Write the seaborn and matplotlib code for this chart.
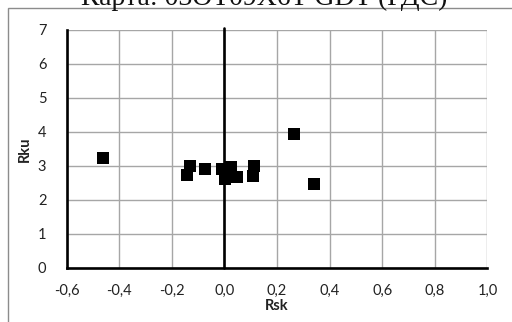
import matplotlib
matplotlib.use("Agg")
import matplotlib.pyplot as plt
import seaborn as sns
import pandas as pd
from matplotlib.patches import Rectangle

# values
rsk = [-0.463, -0.131, -0.141, -0.073, -0.008, 0.024, 0.002, 0.049, 0.014, 0.112, 0.110, 0.264, 0.339]
rku = [3.23, 2.99, 2.74, 2.90, 2.91, 2.96, 2.62, 2.67, 2.74, 3.01, 2.71, 3.94, 2.48]

xticks = [-0.6, -0.4, -0.2, 0.0, 0.2, 0.4, 0.6, 0.8, 1.0]
xticklabels = ["-0,6", "-0,4", "-0,2", "0,0", "0,2", "0,4", "0,6", "0,8", "1,0"]
yticks = [0, 1, 2, 3, 4, 5, 6, 7]
title = "Карта: 03ОТ09Х6Т GDT (ГДС)"

df = pd.DataFrame({"Rsk": rsk, "Rku": rku})

sns.set_style("white")
plt.rcParams["font.family"] = ["Lato", "DejaVu Sans"]

fig = plt.figure(figsize=(5.12, 3.22), dpi=100)
ax = fig.add_axes([0.130, 0.168, 0.822, 0.739])

# outer chart-area border (only top and left visible in the crop)
fig.patches.append(Rectangle((8 / 512, -0.1), 1.2, 1 - 8 / 322 + 0.1,
                             transform=fig.transFigure, fill=False,
                             edgecolor="#8c8c8c", linewidth=1.0, clip_on=False))

ax.set_xlim(-0.6, 1.0)
ax.set_ylim(0, 7)
ax.set_xticks(xticks)
ax.set_xticklabels(xticklabels)
ax.set_yticks(yticks)

ax.grid(True, color="#a6a6a6", linewidth=1.0)
ax.set_axisbelow(True)
for s in ["top", "right"]:
    ax.spines[s].set_visible(False)
for s in ["left", "bottom"]:
    ax.spines[s].set_color("black")
    ax.spines[s].set_linewidth(1.9)
    ax.spines[s].set_zorder(3)

ax.axvline(0, ymin=0, ymax=1.01, color="black", linewidth=1.9, zorder=2, clip_on=False)

sns.scatterplot(data=df, x="Rsk", y="Rku", marker="s", s=66, color="black",
                linewidth=0, ax=ax, zorder=4, clip_on=False)

ax.tick_params(axis="both", direction="out", length=4.5, width=1.9, color="black",
               labelsize=10.5, labelcolor="#222222")
ax.tick_params(axis="x", pad=7)
ax.tick_params(axis="y", pad=10)

ax.set_xlabel("Rsk", fontsize=10.5, fontweight="bold", color="#222222")
ax.set_ylabel("Rku", fontsize=10.5, fontweight="bold", color="#222222")
ax.xaxis.set_label_coords(0.5, -0.158)
ax.xaxis.label.set_va("center")
ax.yaxis.set_label_coords(-0.099, 0.5)
ax.yaxis.label.set_va("center")

# title sits mostly above the crop, only its lower part shows
fig.text(264 / 512, 1 - 5 / 322, title, ha="center", va="baseline", fontsize=20,
         family=["Liberation Serif", "DejaVu Serif"], color="#111111")

fig.savefig("out.png", dpi=100)
